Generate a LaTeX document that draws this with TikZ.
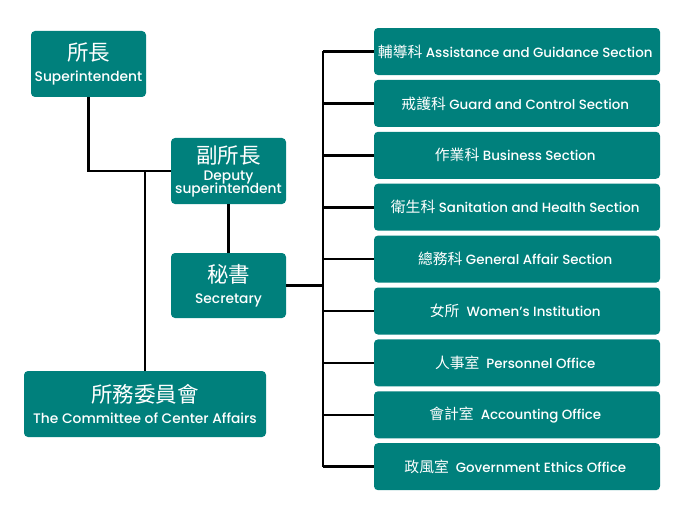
\documentclass[tikz,border=0pt]{standalone}
\usepackage{fontspec}
\setmainfont{Poppins}[BoldFont={Poppins Medium}]
\newfontfamily\cjk{Noto Sans CJK TC}
\usetikzlibrary{matrix}
\definecolor{orgteal}{RGB}{0,128,124}
\newcommand{\zh}[1]{{\cjk\mdseries\fontsize{21.5}{20}\selectfont #1}}
\newcommand{\zhs}[1]{{\cjk\mdseries\fontsize{14.8}{16}\selectfont #1}}
\tikzset{
  unit/.style={fill=orgteal, rounded corners=4pt, text=white, align=center,
    inner sep=0pt, minimum width=115pt, minimum height=66pt,
    font=\bfseries\fontsize{13.8}{21}\selectfont},
  wire/.style={line width=2.6pt, black},
}

\begin{document}
\begin{tikzpicture}[x=1pt,y=-1pt]
  \useasboundingbox (0,0) rectangle (684,513);
  \node[unit] (super) at (88.5,64) {\zh{所長}\\Superintendent};
  \node[unit] (deputy) at (228.5,171) {\zh{副所長}\\[-4pt]Deputy\\[-8pt]superintendent};
  \node[unit, minimum height=65pt] (secretary) at (228.5,285.5) {\zh{秘書}\\Secretary};
  \node[unit, minimum width=242pt] (committee) at (145,404) {\zh{所務委員會}\\The Committee of Center Affairs};
  \matrix (sec) [matrix of nodes, row sep=4.9pt,
    nodes={unit, minimum width=286pt, minimum height=47pt,
      font=\bfseries\fontsize{13.4}{16}\selectfont}] at (517,259.1)
  {
\zhs{輔導科} Assistance and Guidance Section \\
\zhs{戒護科} Guard and Control Section \\
\zhs{作業科} Business Section \\
\zhs{衛生科} Sanitation and Health Section \\
\zhs{總務科} General Affair Section \\
\zhs{女所}\ \ Women’s Institution \\
\zhs{人事室}\ \ Personnel Office \\
\zhs{會計室}\ \ Accounting Office \\
\zhs{政風室}\ \ Government Ethics Office \\
  };
  \coordinate (bus) at (323,285.5);
  \draw[wire] (super.south) |- (deputy.west);
  \draw[wire] (committee.north) -- (committee.north |- deputy.west);
  \draw[wire] (deputy) -- (secretary);
  \draw[wire] (secretary) -- (bus);
  \draw[wire] (sec-1-1.west -| bus) -- (sec-9-1.west -| bus);
  \path[wire]
  (sec-1-1.west) edge (sec-1-1.west -| bus)
  (sec-2-1.west) edge (sec-2-1.west -| bus)
  (sec-3-1.west) edge (sec-3-1.west -| bus)
  (sec-4-1.west) edge (sec-4-1.west -| bus)
  (sec-5-1.west) edge (sec-5-1.west -| bus)
  (sec-6-1.west) edge (sec-6-1.west -| bus)
  (sec-7-1.west) edge (sec-7-1.west -| bus)
  (sec-8-1.west) edge (sec-8-1.west -| bus)
  (sec-9-1.west) edge (sec-9-1.west -| bus)
          ;
\end{tikzpicture}
\end{document}
